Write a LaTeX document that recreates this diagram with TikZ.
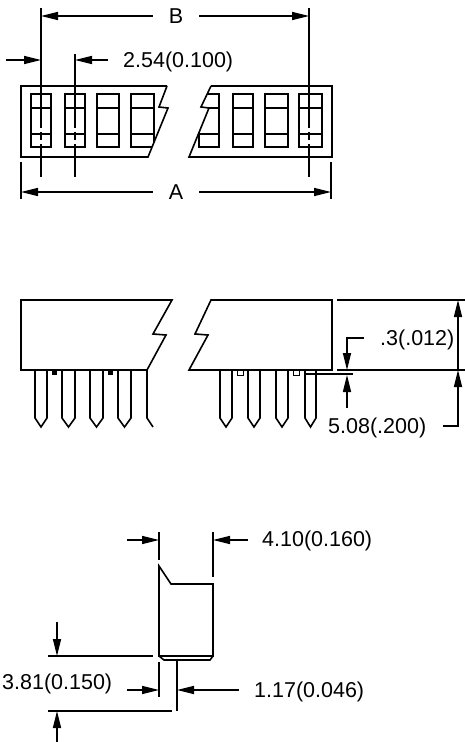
\documentclass[tikz,border=0pt]{standalone}
\usepackage{fontspec}
\setmainfont{Liberation Sans}
\usepackage{tikz}
\usetikzlibrary{arrows.meta}
\tikzset{
  body/.style={line width=1.6pt},
  dim/.style={line width=1.4pt},
  dimarrow/.style={line width=1.4pt,-{Triangle[length=17pt,width=8pt]}},
  dimlabel/.style={inner sep=0pt,font=\fontsize{21.5}{23}\selectfont},
}
\begin{document}
\begin{tikzpicture}[x=1pt,y=-1pt]
     \useasboundingbox (0,0) rectangle (465,742);
     \draw[body] (167,86) -- (21,86) -- (21,157) -- (148,157) -- (168,108) -- (159,107) -- (167,86);
     \draw[body] (211,86) -- (332,86) -- (332,157) -- (189,157) -- (209,108) -- (201,107) -- (211,86);
     \draw[body] (31,94) rectangle (51,147);
     \draw[body] (31,108) -- (51,108) (31,134) -- (51,134);
     \draw[body] (65,94) rectangle (85,147);
     \draw[body] (65,108) -- (85,108) (65,134) -- (85,134);
     \draw[body] (97,94) rectangle (119,147);
     \draw[body] (97,108) -- (119,108) (97,134) -- (119,134);
     \draw[body] (152,147) -- (131,147) -- (131,94) -- (154,94) -- (154,142);
     \draw[body] (131,108) -- (154,108) (131,134) -- (154,134);
     \draw[body] (207,94) -- (219,94) -- (219,147) -- (199,147) -- (199,132);
     \draw[body] (209,108) -- (219,108) (199,134) -- (219,134);
     \draw[body] (233,94) rectangle (253,147);
     \draw[body] (233,108) -- (253,108) (233,134) -- (253,134);
     \draw[body] (265,94) rectangle (288,147);
     \draw[body] (265,108) -- (288,108) (265,134) -- (288,134);
     \draw[body] (299,94) rectangle (322,147);
     \draw[body] (299,108) -- (322,108) (299,134) -- (322,134);
     \draw[dim] (41,8) -- (41,128) (41,132) -- (41,140) (41,144) -- (41,177);
     \draw[dim] (75,54) -- (75,128) (75,132) -- (75,140) (75,144) -- (75,177);
     \draw[dim] (309,8) -- (309,128) (309,132) -- (309,140) (309,144) -- (309,177);
     \draw[dim] (21,162) -- (21,199);
     \draw[dim] (331,162) -- (331,199);
     \node[dimlabel] (labelB) at (176,16) {B};
     \draw[dimarrow] (labelB.west) ++(-16,0) -- (41,16);
     \draw[dimarrow] (labelB.east) ++(16,0) -- (309,16);
     \node[dimlabel,anchor=west] (labelpitch) at (123,62) {2.54(0.100)};
     \draw[dimarrow] (6,60) -- (41,60);
     \draw[dimarrow] (108,60) -- (75,60);
     \node[dimlabel] (labelA) at (176,192) {A};
     \draw[dimarrow] (labelA.west) ++(-16,0) -- (21,192);
     \draw[dimarrow] (labelA.east) ++(16,0) -- (331,192);

     \draw[body] (21,300) -- (172,300) -- (153,334) -- (166,335) -- (147,370) -- (21,370) -- cycle;
     \draw[body] (332,300) -- (211,300) -- (195,334) -- (208,335) -- (189,370) -- (332,370) -- cycle;
     \draw[body] (35,370) -- (35,418) -- (41,427) -- (47,418) -- (47,370);
     \draw[body] (62,370) -- (62,418) -- (68.5,427) -- (75,418) -- (75,370);
     \draw[body] (90,370) -- (90,418) -- (96.5,427) -- (103,418) -- (103,370);
     \draw[body] (118,370) -- (118,418) -- (124.5,427) -- (131,418) -- (131,370);
     \draw[body] (147,370) -- (147,418) -- (153,427);
     \draw[body] (220,370) -- (220,418) -- (226,427) -- (232,418) -- (232,370);
     \draw[body] (248,370) -- (248,418) -- (254,427) -- (260,418) -- (260,370);
     \draw[body] (276,370) -- (276,418) -- (282,427) -- (288,418) -- (288,370);
     \draw[body] (305,370) -- (305,418) -- (310.5,427) -- (316,418) -- (316,370);
     \fill (52,370) rectangle (57,375);
     \fill (108,370) rectangle (113,375);
     \draw[line width=1pt] (237,370) rectangle (243,375);
     \draw[line width=1pt] (293,370) rectangle (299,375);
     \draw[dim] (337,300) -- (465,300);
     \draw[dim] (337,370) -- (465,370);
     \draw[dim] (305,374) -- (353,374);
     \node[dimlabel,anchor=west] (labelthick) at (380,340) {.3(.012)};
     \node[dimlabel,anchor=west] (labelpin) at (328,428) {5.08(.200)};
     \draw[dimarrow] (364,338) -- (347,338) -- (347,370);
     \draw[dimarrow] (347,408) -- (347,375);
     \draw[dimarrow] (458,335) -- (458,300);
     \draw[dimarrow] (443,426) -- (458,426) -- (458,370);
     \draw[dim] (458,335) -- (458,370);

     \draw[body] (159,566) -- (171,584) -- (213,584) -- (213,656) -- (159,656) -- cycle;
     \draw[body] (159,656) -- (164,660) -- (210,660) -- (213,656);
     \draw[dim] (177,660) -- (177,711);
     \draw[dim] (159,532) -- (159,560);
     \draw[dim] (213,532) -- (213,577);
     \node[dimlabel,anchor=west] (labelwidth) at (262,541) {4.10(0.160)};
     \draw[dimarrow] (127,540) -- (159,540);
     \draw[dimarrow] (248,540) -- (213,540);
     \draw[dim] (48,656) -- (153,656);
     \draw[dim] (48,711) -- (172,711);
     \draw[dimarrow] (57,622) -- (57,656);
     \draw[dimarrow] (57,742) -- (57,711);
     \node[dimlabel,anchor=west] (labellead) at (2,684) {3.81(0.150)};
     \draw[dim] (159,662) -- (159,697);
     \draw[dimarrow] (127,690) -- (159,690);
     \node[dimlabel,anchor=west] (labelpad) at (254,692) {1.17(0.046)};
     \draw[dimarrow] (239,690) -- (177,690);
\end{tikzpicture}
\end{document}
